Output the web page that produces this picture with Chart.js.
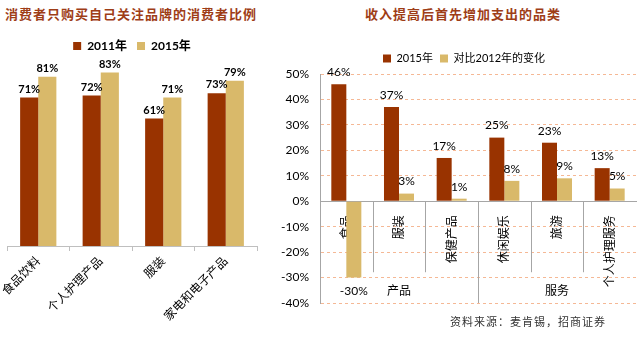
<!doctype html>
<html>
<head>
    <meta charset="utf-8">
    <title>消费者品牌</title>
    <script src="https://cdnjs.cloudflare.com/ajax/libs/Chart.js/4.4.1/chart.umd.min.js"></script>
    <style>
        body { margin:0; background:#fff; width:640px; height:338px; position:relative; overflow:hidden; }
        .ttl { position:absolute; top:4px; font-family:"Noto Sans CJK SC"; font-weight:bold; font-size:13px; letter-spacing:1px; color:#9e3d17; white-space:nowrap; }
        canvas { position:absolute; top:0; }
        #src { position:absolute; left:450px; top:313px; font-family:"Noto Sans CJK SC"; font-size:11px; color:#333; letter-spacing:1px; }
    </style>
</head>
<body>
    <div class="ttl" style="left:5px">消费者只购买自己关注品牌的消费者比例</div>
    <div class="ttl" style="left:365px">收入提高后首先增加支出的品类</div>
    <canvas id="left" width="262" height="338" style="left:0"></canvas>
    <canvas id="right" width="408" height="338" style="left:260px"></canvas>
    <div id="src">资料来源：麦肯锡，招商证券</div>
    <script>
        // left chart
        var brandCats = ['食品饮料', '个人护理产品', '服装', '家电和电子产品'];
        var brand2011 = [71, 72, 61, 73];
        var brand2015 = [81, 83, 71, 79];
        // right chart
        var spendCats = ['食品', '服装', '保健产品', '休闲娱乐', '旅游', '个人护理服务'];
        var spend2015 = [46, 37, 17, 25, 23, 13];
        var spendChange = [-30, 3, 1, 8, 9, 5];
        var spendGroups = [{label: '产品', from: 0, to: 2}, {label: '服务', from: 3, to: 5}];

        var RED = '#993300', GOLD = '#d9b96a';
        var FONT = "Lato, 'Noto Sans CJK SC'";

        var valueLabels = {
            id: 'valueLabels',
            afterDatasetsDraw: function(chart, args, opts) {
                var ctx = chart.ctx;
                ctx.save();
                ctx.font = opts.font;
                ctx.fillStyle = '#000';
                ctx.textAlign = 'center';
                chart.data.datasets.forEach(function(ds, i) {
                    chart.getDatasetMeta(i).data.forEach(function(bar, j) {
                        var v = ds.data[j];
                        if (v < 0) {
                            ctx.textBaseline = 'top';
                            ctx.fillText(v + '%', bar.x, bar.y + opts.negOffset);
                        } else {
                            ctx.textBaseline = 'bottom';
                            ctx.fillText(v + '%', bar.x, bar.y - opts.offset);
                        }
                    });
                });
                ctx.restore();
            }
        };

        var groupLines = {
            id: 'groupLines',
            afterDraw: function(chart) {
                var x = chart.scales.x, y = chart.scales.y, ctx = chart.ctx;
                var n = spendCats.length, w = x.width / n;
                var y0 = y.getPixelForValue(0);
                var bottom = chart.chartArea.bottom;
                ctx.save();
                ctx.strokeStyle = '#a6a6a6';
                ctx.lineWidth = 1;
                var starts = spendGroups.map(function(g) { return g.from; });
                for (var i = 0; i < n; i++) {
                    var xx = Math.round(x.getPixelForValue(i) - w / 2) + 0.5;
                    ctx.beginPath();
                    ctx.moveTo(xx, y0);
                    ctx.lineTo(xx, starts.indexOf(i) >= 0 ? bottom : y0 + 71);
                    ctx.stroke();
                }
                ctx.font = '12px ' + FONT;
                ctx.fillStyle = '#000';
                ctx.textAlign = 'center';
                ctx.textBaseline = 'middle';
                spendGroups.forEach(function(g) {
                    var cx = (x.getPixelForValue(g.from) + x.getPixelForValue(g.to)) / 2;
                    ctx.fillText(g.label, cx, y0 + 90);
                });
                ctx.restore();
            }
        };

        new Chart(document.getElementById('left').getContext('2d'), {
            type: 'bar',
            data: {
                labels: brandCats,
                datasets: [
                    {label: '2011年', data: brand2011, backgroundColor: RED},
                    {label: '2015年', data: brand2015, backgroundColor: GOLD}
                ]
            },
            options: {
                responsive: false,
                animation: false,
                categoryPercentage: 0.58,
                barPercentage: 1,
                layout: {padding: {left: 7, right: 5, top: 30, bottom: 0}},
                plugins: {
                    legend: {
                        labels: {boxWidth: 8, boxHeight: 8, padding: 10, color: '#000',
                                 font: {family: FONT, size: 12, weight: 'bold'}}
                    },
                    tooltip: {enabled: false},
                    valueLabels: {font: 'bold 11px ' + FONT, offset: 3}
                },
                scales: {
                    x: {
                        grid: {display: true, drawOnChartArea: false, offset: true, tickLength: 5, color: '#bfbfbf'},
                        border: {color: '#bfbfbf'},
                        ticks: {minRotation: 45, maxRotation: 45, color: '#000', font: {family: FONT, size: 12}},
                        afterFit: function(s) { s.height = 92; }
                    },
                    y: {display: false, min: 0, max: 88}
                }
            },
            plugins: [valueLabels]
        });

        new Chart(document.getElementById('right').getContext('2d'), {
            type: 'bar',
            data: {
                labels: spendCats,
                datasets: [
                    {label: '2015年', data: spend2015, backgroundColor: RED},
                    {label: '对比2012年的变化', data: spendChange, backgroundColor: GOLD}
                ]
            },
            options: {
                responsive: false,
                animation: false,
                categoryPercentage: 0.57,
                barPercentage: 1,
                layout: {padding: {left: 32, right: 32, top: 46, bottom: 35}},
                plugins: {
                    legend: {
                        labels: {boxWidth: 8, boxHeight: 8, padding: 7, color: '#000',
                                 font: {family: FONT, size: 11}}
                    },
                    tooltip: {enabled: false},
                    valueLabels: {font: '12px ' + FONT, offset: 6, negOffset: 8}
                },
                scales: {
                    x: {
                        position: {y: 0},
                        grid: {display: false},
                        border: {color: '#a6a6a6'},
                        ticks: {minRotation: 90, maxRotation: 90, padding: 6, color: '#000', font: {family: FONT, size: 12}}
                    },
                    y: {
                        min: -40, max: 50,
                        grid: {color: '#f5b895', drawTicks: false},
                        border: {color: '#a6a6a6', dash: [3, 3]},
                        ticks: {stepSize: 10, mirror: true, crossAlign: 'far', padding: -39, color: '#000',
                                font: {family: FONT, size: 12},
                                callback: function(v) { return v + '%'; }},
                        afterFit: function(s) { s.width = 28; }
                    }
                }
            },
            plugins: [valueLabels, groupLines]
        });
    </script>
</body>
</html>
